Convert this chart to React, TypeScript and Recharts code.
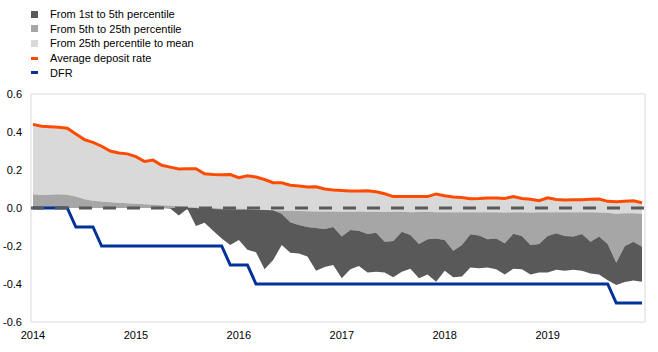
import { ComposedChart, Area, Line, XAxis, YAxis, ReferenceLine, ReferenceArea } from 'recharts'

const YEARS = ['2014', '2015', '2016', '2017', '2018', '2019']
const MONTH_NUMS = ['01', '02', '03', '04', '05', '06', '07', '08', '09', '10', '11', '12']
const MONTHS = YEARS.flatMap(y => MONTH_NUMS.map(m => `${y}-${m}`))

// average deposit rate (also the top of the light band = mean)
const AVG_RATE = [
  0.44, 0.43, 0.427, 0.425, 0.42, 0.39, 0.36, 0.345, 0.325, 0.3,
  0.29, 0.285, 0.27, 0.245, 0.252, 0.225, 0.215, 0.205, 0.207, 0.207,
  0.18, 0.176, 0.175, 0.176, 0.16, 0.17, 0.163, 0.15, 0.133, 0.133,
  0.12, 0.116, 0.11, 0.112, 0.1, 0.095, 0.092, 0.089, 0.09, 0.091,
  0.085, 0.075, 0.06, 0.06, 0.06, 0.06, 0.06, 0.074, 0.065, 0.058,
  0.055, 0.049, 0.05, 0.053, 0.052, 0.05, 0.06, 0.05, 0.046, 0.038,
  0.054, 0.045, 0.042, 0.043, 0.044, 0.046, 0.047, 0.035, 0.033, 0.035,
  0.038, 0.028,
]

const P25 = [
  0.072, 0.068, 0.07, 0.072, 0.07, 0.06, 0.046, 0.038, 0.034, 0.03,
  0.027, 0.025, 0.022, 0.02, 0.017, 0.015, 0.012, 0.008, 0.005, 0.003,
  0.001, 0, -0.002, -0.003, -0.004, -0.005, -0.007, -0.01, -0.012, -0.014,
  -0.015, -0.016, -0.017, -0.018, -0.018, -0.019, -0.02, -0.02, -0.019, -0.02,
  -0.02, -0.021, -0.02, -0.02, -0.022, -0.021, -0.02, -0.022, -0.022, -0.023,
  -0.022, -0.022, -0.023, -0.022, -0.022, -0.024, -0.022, -0.023, -0.024, -0.023,
  -0.022, -0.023, -0.022, -0.023, -0.022, -0.023, -0.024, -0.025, -0.03, -0.028,
  -0.027, -0.03,
]

const P5 = [
  0, 0, 0, 0, 0, 0, 0, 0, 0, 0,
  0, 0, 0, 0, 0, 0, 0, 0, 0, 0,
  -0.005, -0.005, -0.006, -0.007, -0.008, -0.008, -0.01, -0.01, -0.012, -0.03,
  -0.075, -0.09, -0.1, -0.105, -0.11, -0.1, -0.15, -0.116, -0.12, -0.137,
  -0.13, -0.177, -0.174, -0.125, -0.142, -0.19, -0.165, -0.16, -0.168, -0.225,
  -0.195, -0.138, -0.145, -0.165, -0.16, -0.186, -0.136, -0.147, -0.195, -0.19,
  -0.147, -0.133, -0.147, -0.15, -0.137, -0.177, -0.15, -0.19, -0.288, -0.2,
  -0.177, -0.204,
]

const P1 = [
  0, 0, 0, 0, 0, 0, 0, 0, 0, 0,
  0, 0, 0, 0, 0, 0, -0.003, -0.04, -0.004, -0.095,
  -0.078, -0.12, -0.16, -0.195, -0.168, -0.22, -0.233, -0.323, -0.274, -0.195,
  -0.235, -0.24, -0.255, -0.33, -0.31, -0.3, -0.37, -0.323, -0.305, -0.34,
  -0.335, -0.34, -0.365, -0.335, -0.32, -0.37, -0.35, -0.388, -0.33, -0.365,
  -0.36, -0.313, -0.317, -0.313, -0.323, -0.35, -0.32, -0.323, -0.35, -0.34,
  -0.34, -0.325, -0.33, -0.325, -0.33, -0.345, -0.35, -0.38, -0.405, -0.39,
  -0.382, -0.388,
]

const DFR = [
  0, 0, 0, 0, 0, -0.1, -0.1, -0.1, -0.2, -0.2,
  -0.2, -0.2, -0.2, -0.2, -0.2, -0.2, -0.2, -0.2, -0.2, -0.2,
  -0.2, -0.2, -0.2, -0.3, -0.3, -0.3, -0.4, -0.4, -0.4, -0.4,
  -0.4, -0.4, -0.4, -0.4, -0.4, -0.4, -0.4, -0.4, -0.4, -0.4,
  -0.4, -0.4, -0.4, -0.4, -0.4, -0.4, -0.4, -0.4, -0.4, -0.4,
  -0.4, -0.4, -0.4, -0.4, -0.4, -0.4, -0.4, -0.4, -0.4, -0.4,
  -0.4, -0.4, -0.4, -0.4, -0.4, -0.4, -0.4, -0.4, -0.5, -0.5,
  -0.5, -0.5,
]

const Y_TICKS = [-0.6, -0.4, -0.2, 0, 0.2, 0.4, 0.6]

const DARK = '#595959'
const MID = '#a6a6a6'
const LIGHT = '#d9d9d9'
const ORANGE = '#ff4b00'
const BLUE = '#003299'
const FONT = 'Arial, "Liberation Sans", sans-serif'

const LEGEND = [
  { label: 'From 1st to 5th percentile', color: DARK, kind: 'box' },
  { label: 'From 5th to 25th percentile', color: MID, kind: 'box' },
  { label: 'From 25th percentile to mean', color: LIGHT, kind: 'box' },
  { label: 'Average deposit rate', color: ORANGE, kind: 'line' },
  { label: 'DFR', color: BLUE, kind: 'line' },
]

const data = MONTHS.map((month, i) => ({
  i,
  month,
  dark: [P1[i], P5[i]],
  mid: [P5[i], P25[i]],
  light: [P25[i], AVG_RATE[i]],
  avg: AVG_RATE[i],
  dfr: DFR[i],
}))

const X_MIN = -0.23
const X_MAX = 71.35

export default function App() {
  return (
    <div style={{ position: 'absolute', left: 0, top: 0, width: 658, height: 352, background: '#fff', fontFamily: FONT }}>
      <div style={{ position: 'absolute', left: 0, top: 7, zIndex: 2 }}>
        {LEGEND.map(item => (
          <div key={item.label} style={{ position: 'relative', height: 14.6, display: 'flex', alignItems: 'center' }}>
            <div
              style={{
                position: 'absolute',
                left: 31,
                width: 7,
                height: item.kind === 'box' ? 7 : 3,
                backgroundColor: item.color,
              }}
            />
            <span style={{ position: 'absolute', left: 50, fontSize: 11, color: '#000', whiteSpace: 'nowrap' }}>
              {item.label}
            </span>
          </div>
        ))}
      </div>

      <ComposedChart width={658} height={352} data={data} margin={{ top: 94, right: 13, bottom: 0, left: 0 }}>
        <ReferenceArea x1={X_MIN} x2={X_MAX} y1={-0.6} y2={0.6} fill="none" stroke={LIGHT} strokeWidth={1} />
        <XAxis
          type="number"
          dataKey="i"
          domain={[X_MIN, X_MAX]}
          ticks={[0, 12, 24, 36, 48, 60]}
          tickFormatter={v => YEARS[Math.round(v / 12)]}
          axisLine={false}
          tickLine={false}
          tickSize={0}
          tickMargin={9}
          height={30}
          tick={{ fontSize: 11, fill: '#000', fontFamily: FONT }}
        />
        <YAxis
          domain={[-0.6, 0.6]}
          ticks={Y_TICKS}
          tickFormatter={v => v.toFixed(1)}
          axisLine={false}
          tickLine={false}
          tickSize={0}
          tickMargin={9}
          width={31}
          tick={{ fontSize: 11, fill: '#000', fontFamily: FONT }}
        />
        <Area type="linear" dataKey="light" stroke="none" fill={LIGHT} fillOpacity={1} isAnimationActive={false} />
        <Area type="linear" dataKey="mid" stroke="none" fill={MID} fillOpacity={1} isAnimationActive={false} />
        <Area type="linear" dataKey="dark" stroke="none" fill={DARK} fillOpacity={1} isAnimationActive={false} />
        <Line type="linear" dataKey="dfr" stroke={BLUE} strokeWidth={3} dot={false} isAnimationActive={false} />
        <ReferenceLine y={0} stroke={DARK} strokeWidth={3} strokeDasharray="13 11" />
        <Line type="linear" dataKey="avg" stroke={ORANGE} strokeWidth={3} dot={false} isAnimationActive={false} />
      </ComposedChart>
    </div>
  )
}
